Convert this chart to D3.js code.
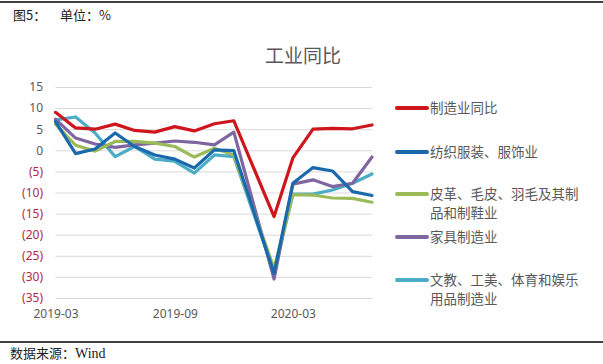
<!DOCTYPE html>
<html>
<head>
<meta charset="utf-8">
<script src="https://cdn.jsdelivr.net/npm/d3@7"></script>
<style>
  body { margin: 0; background: #fff; }
  svg { display: block; }
  text { font-family: "Noto Sans CJK SC", "Noto Sans", sans-serif; }
</style>
</head>
<body>
<svg id="chart" width="603" height="364"></svg>
<script>
// months (Jan 2020 merged into Feb, so it is absent)
var months = ["2019-03","2019-04","2019-05","2019-06","2019-07","2019-08","2019-09",
              "2019-10","2019-11","2019-12","2020-02","2020-03","2020-04","2020-05",
              "2020-06","2020-07"];

var seriesNames = ["制造业同比", "纺织服装、服饰业", "皮革、毛皮、羽毛及其制品和制鞋业",
                   "家具制造业", "文教、工美、体育和娱乐用品制造业"];
var legendLines = [["制造业同比"], ["纺织服装、服饰业"], ["皮革、毛皮、羽毛及其制", "品和制鞋业"],
                   ["家具制造业"], ["文教、工美、体育和娱乐", "用品制造业"]];

var manuf   = [9.0, 5.3, 5.0, 6.2, 4.7, 4.3, 5.6, 4.6, 6.3, 7.0, -15.7, -1.8, 5.0, 5.2, 5.1, 6.0];
var textile = [6.8, -0.8, 0.3, 4.1, 0.9, -1.1, -2.1, -4.2, 0.1, -0.1, -29.2, -7.8, -4.1, -4.9, -9.8, -10.7];
var leather = [6.2, 1.2, -0.2, 2.1, 2.1, 1.7, 0.9, -1.6, 0.5, -1.1, -28.0, -10.5, -10.6, -11.3, -11.4, -12.3];
var furnit  = [7.4, 2.9, 1.5, 0.7, 1.3, 1.7, 2.2, 1.9, 1.3, 4.3, -30.5, -8.0, -7.0, -8.6, -7.8, -1.6];
var culture = [7.2, 7.9, 4.1, -1.5, 0.9, -2.1, -2.6, -5.4, -1.1, -1.5, -29.0, -10.4, -10.4, -9.4, -7.8, -5.6];

var yTicks = [15, 10, 5, 0, -5, -10, -15, -20, -25, -30, -35];
var xTickLabels = ["2019-03", "2019-09", "2020-03"];

var colors = ["#d0161d", "#1a69ad", "#9bbb59", "#7f66a0", "#4bacc6"];

var parseMonth = d3.timeParse("%Y-%m");
var allSeries = [manuf, textile, leather, furnit, culture];

var svg = d3.select("#chart");

// header / footer rules
svg.append("line").attr("x1", 0).attr("x2", 603).attr("y1", 2).attr("y2", 2)
   .attr("stroke", "#000").attr("stroke-width", 1.5);
svg.append("text").attr("x", 13).attr("y", 20)
   .style("font-size", "13px").attr("fill", "#222")
   .text("图5：");
svg.append("text").attr("x", 60).attr("y", 20)
   .style("font-size", "13px").attr("fill", "#222")
   .text("单位：%");

svg.append("line").attr("x1", 0).attr("x2", 603).attr("y1", 342).attr("y2", 342)
   .attr("stroke", "#000").attr("stroke-width", 1.5);
svg.append("text").attr("x", 10).attr("y", 358)
   .style("font-size", "13px").attr("fill", "#222")
   .text("数据来源：")
   .append("tspan").style("font-family", "'Liberation Serif', serif").style("font-size", "14px")
   .text("Wind");

// title
svg.append("text").attr("x", 303).attr("y", 63)
   .attr("text-anchor", "middle")
   .style("font-size", "19px").attr("fill", "#595959")
   .text("工业同比");

var xScale = d3.scaleTime()
    .domain([parseMonth(months[0]), parseMonth(months[months.length - 1])])
    .range([55.5, 372]);
var yScale = d3.scaleLinear().domain([-35, 15]).range([298, 87]);

// gridlines
svg.append("g")
   .attr("transform", "translate(55.5,0)")
   .call(d3.axisLeft(yScale).tickValues(yTicks).tickSize(-(372 - 55.5)).tickFormat(""))
   .call(function(g) {
       g.select(".domain").remove();
       g.selectAll(".tick line").attr("stroke", "#d9d9d9").attr("stroke-width", 1);
   });

// y labels
var fmt = function(v) { return v < 0 ? "(" + (-v) + ")" : String(v); };
svg.append("g")
   .attr("transform", "translate(43,0)")
   .call(d3.axisLeft(yScale).tickValues(yTicks).tickSize(0).tickPadding(0).tickFormat(fmt))
   .call(function(g) {
       g.select(".domain").remove();
       g.selectAll(".tick text")
        .style("font-family", "'Noto Sans', sans-serif")
        .style("font-size", "12px")
        .attr("fill", function(d) { return d < 0 ? "#b3283e" : "#595959"; });
   });

// x labels
svg.append("g")
   .attr("transform", "translate(0,309)")
   .call(d3.axisBottom(xScale).tickValues(xTickLabels.map(parseMonth)).tickSize(0).tickPadding(0)
         .tickFormat(d3.timeFormat("%Y-%m")))
   .call(function(g) {
       g.select(".domain").remove();
       g.selectAll(".tick text")
        .style("font-family", "'Noto Sans', sans-serif")
        .style("font-size", "12px")
        .attr("fill", "#595959");
   });

var line = d3.line()
    .x(function(d, i) { return xScale(parseMonth(months[i])); })
    .y(function(d) { return yScale(d); });

// draw back to front so red sits on top
[4, 3, 2, 1, 0].forEach(function(k) {
    svg.append("path")
       .datum(allSeries[k])
       .attr("d", line)
       .attr("fill", "none")
       .attr("stroke", colors[k])
       .attr("stroke-width", 3.2)
       .attr("stroke-linejoin", "round")
       .attr("stroke-linecap", "round");
});

// legend
var legendY = [108, 152, 194, 237, 280];
var legend = svg.append("g");
legendLines.forEach(function(lines, i) {
    var g = legend.append("g").attr("transform", "translate(0," + legendY[i] + ")");
    g.append("line").attr("x1", 397).attr("x2", 427).attr("y1", 0).attr("y2", 0)
     .attr("stroke", colors[i]).attr("stroke-width", 4).attr("stroke-linecap", "round");
    lines.forEach(function(t, j) {
        g.append("text").attr("x", 430).attr("y", j * 19 + 5)
         .style("font-size", "13.5px").attr("fill", "#595959")
         .text(t);
    });
});
</script>
</body>
</html>
